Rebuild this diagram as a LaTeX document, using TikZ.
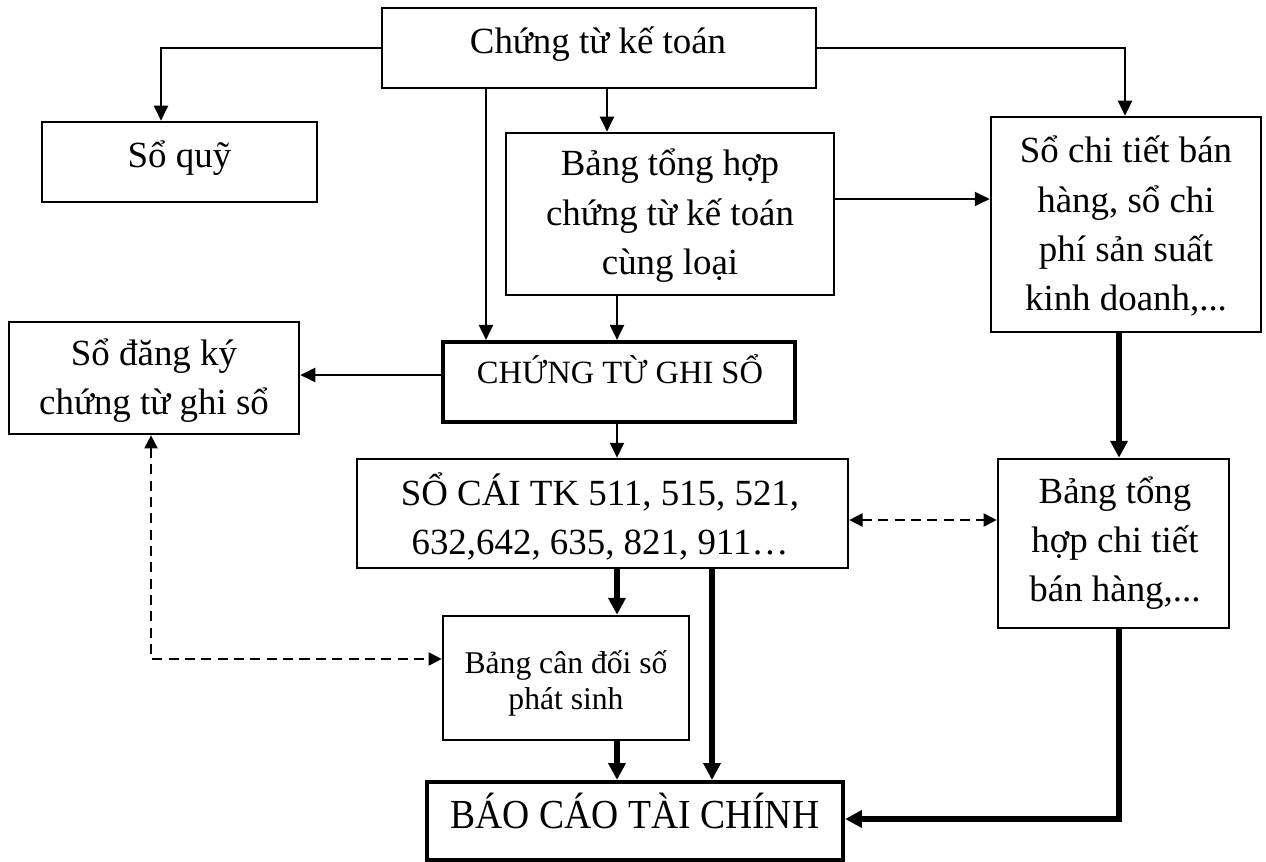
\documentclass[tikz,border=0pt]{standalone}
\usepackage{fontspec}
\setmainfont{Liberation Serif}
\newfontfamily\narrowserif[FakeStretch=0.91]{Liberation Serif}
\usetikzlibrary{arrows.meta}

% multi-line label whose baseline is that of its first line
\newcommand\lines[1]{\begin{tabular}[t]{@{}c@{}}#1\end{tabular}}

% rectangle given by its corners (x1,y1) and (x2,y2), in pixel units
\newcommand\boxat[6]{%
  \pgfmathsetmacro\bw{(#5-#3)*0.02}%
  \pgfmathsetmacro\bh{(#6-#4)*0.02}%
  \node[#1, minimum width=\bw cm, minimum height=\bh cm] (#2) at ({(#3+#5)/2},{(#4+#6)/2}) {};}

\tikzset{
  box/.style={draw, line width=1.5pt, inner sep=0pt},
  boldbox/.style={draw, line width=2.4pt, inner sep=0pt},
  txt/.style={inner sep=0pt, anchor=base, font=\fontsize{21}{28}\selectfont},
  conn/.style={line width=1.1pt, -{Triangle[length=8.5pt, width=8pt]}},
  heavy/.style={line width=3.6pt, -{Triangle[length=9.6pt, width=9.6pt]}},
  dashconn/.style={line width=1.1pt, dash pattern=on 5.7pt off 3.6pt,
    {Triangle[length=7.5pt, width=7.5pt]}-{Triangle[length=7.5pt, width=7.5pt]}},
}

\begin{document}
\begin{tikzpicture}[x=0.02cm, y=-0.02cm]
\useasboundingbox (0,0) rectangle (1266,861);

% boxes
\boxat{box}{ctkt}{382}{8}{816}{88}
\boxat{box}{soquy}{42}{122}{317}{202}
\boxat{box}{bth}{506}{133}{834}{295}
\boxat{box}{sct}{991}{117}{1261}{332}
\boxat{box}{sdk}{9}{322}{299}{434}
\boxat{boldbox}{ctgs}{443}{342}{795}{422}
\boxat{box}{socai}{357}{459}{848}{568}
\boxat{box}{bthct}{998}{459}{1229}{628}
\boxat{box}{bcd}{443}{616}{689}{740}
\boxat{boldbox}{bctc}{427}{782}{843}{860}

% labels
\node[txt] (ctkt-t) at (598,54) {Chứng từ kế toán};
\node[txt] (soquy-t) at (179.5,168) {Sổ quỹ};
\node[txt] (bth-t) at (670,176) {\lines{Bảng tổng hợp\\chứng từ kế toán\\cùng loại}};
\node[txt] (sct-t) at (1126,163) {\lines{Sổ chi tiết bán\\hàng, sổ chi\\phí sản suất\\kinh doanh,...}};
\node[txt] (sdk-t) at (154,365) {\lines{Sổ đăng ký\\chứng từ ghi sổ}};
\node[txt, font=\fontsize{18.5}{24}\selectfont] (ctgs-t) at (620,383) {CHỨNG TỪ GHI SỔ};
\node[txt] (socai-t) at (600,505) {\lines{SỔ CÁI TK 511, 515, 521,\\632,642, 635, 821, 911…}};
\node[txt] (bthct-t) at (1115,503) {\lines{Bảng tổng\\hợp chi tiết\\bán hàng,...}};
\node[txt, font=\fontsize{18}{21}\selectfont] (bcd-t) at (566,673) {\lines{Bảng cân đối số\\phát sinh}};
\node[txt, font=\narrowserif\fontsize{23.5}{28}\selectfont] (bctc-t) at (635,828) {BÁO CÁO TÀI CHÍNH};

% helper positions of the connector lanes
\coordinate (xL) at (161,0);
\coordinate (xR) at (1125,0);
\coordinate (xA) at (486,0);
\coordinate (xB) at (607,0);
\coordinate (xC) at (617,0);
\coordinate (xF) at (1119,0);
\coordinate (xH) at (151,0);
\coordinate (xJ) at (712,0);
\coordinate (yD) at (0,199);
\coordinate (yE) at (0,375);
\coordinate (yG) at (0,520);
\coordinate (yI) at (0,659);
\coordinate (yK) at (0,819);

% thin connectors
\draw[conn] (ctkt.west) -| (xL |- soquy.north);
\draw[conn] (ctkt.east) -| (xR |- sct.north);
\draw[conn] (xB |- ctkt.south) -- (xB |- bth.north);
\draw[conn] (xA |- ctkt.south) -- (xA |- ctgs.north);
\draw[conn] (xC |- bth.south) -- (xC |- ctgs.north);
\draw[conn] (bth.east |- yD) -- (sct.west |- yD);
\draw[conn] (ctgs.west |- yE) -- (sdk.east |- yE);
\draw[conn] (xC |- ctgs.south) -- (xC |- socai.north);

% dashed cross-checks
\draw[dashconn] (socai.east |- yG) -- (bthct.west |- yG);
\draw[dashconn] (xH |- sdk.south) -- (xH |- yI) -- (bcd.west |- yI);

% heavy connectors
\draw[heavy] (xF |- sct.south) -- (xF |- bthct.north);
\draw[heavy] (xC |- socai.south) -- (xC |- bcd.north);
\draw[heavy] (xJ |- socai.south) -- (xJ |- bctc.north);
\draw[heavy] (xC |- bcd.south) -- (xC |- bctc.north);
\draw[heavy] (xF |- bthct.south) -- (xF |- yK) -- (bctc.east |- yK);
\end{tikzpicture}
\end{document}
